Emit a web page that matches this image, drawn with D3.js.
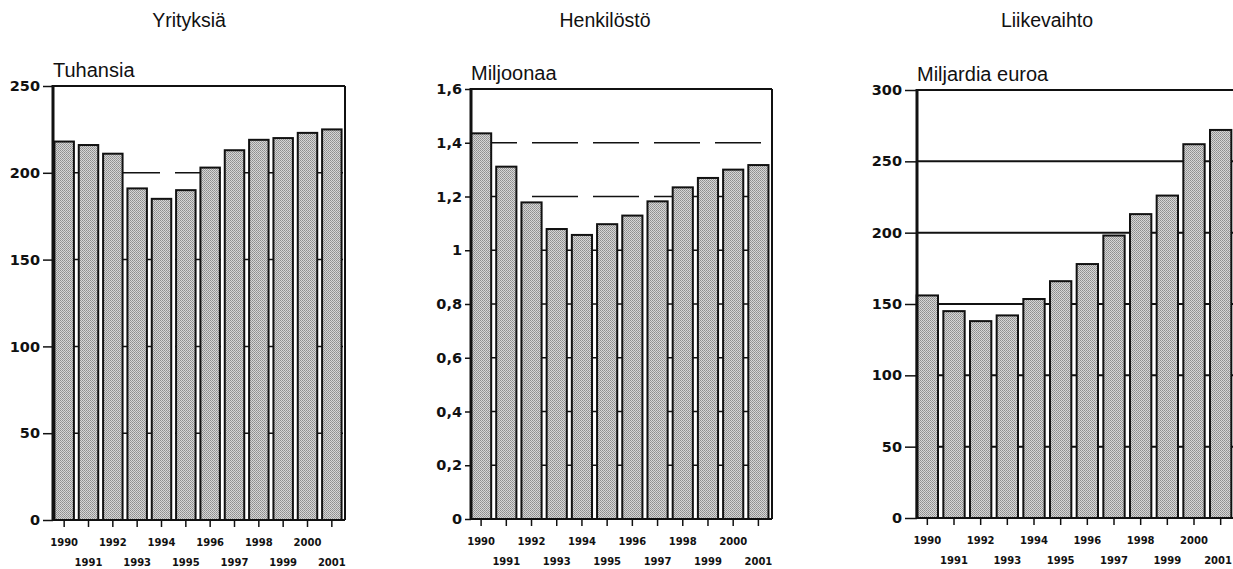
<!DOCTYPE html>
<html>
<head>
<meta charset="utf-8">
<script src="https://d3js.org/d3.v7.min.js"></script>
<style>
  body { margin: 0; background: #fff; }
  svg { display: block; }
</style>
</head>
<body>
<div id="chart"></div>
<script>
// Data
const years = ['1990', '1991', '1992', '1993', '1994', '1995', '1996', '1997', '1998', '1999', '2000', '2001'];
const yrityksia = [218, 216, 211, 191, 185, 190, 203, 213, 219, 220, 223, 225];
const henkilosto = [1.435, 1.311, 1.178, 1.079, 1.057, 1.097, 1.129, 1.182, 1.234, 1.269, 1.300, 1.317];
const liikevaihto = [156, 145, 138, 142, 153.5, 166, 178, 198, 213, 226, 262, 272];

const ticksYrityksia = [0, 50, 100, 150, 200, 250];
const ticksHenkilosto = [0, 0.2, 0.4, 0.6, 0.8, 1, 1.2, 1.4, 1.6];
const ticksLiikevaihto = [0, 50, 100, 150, 200, 250, 300];

const titles = ['Yrityksiä', 'Henkilöstö', 'Liikevaihto'];
const units = ['Tuhansia', 'Miljoonaa', 'Miljardia euroa'];

const width = 1233, height = 569;
const fi = d3.formatLocale({ decimal: ',', thousands: ' ', grouping: [3], currency: ['', ' €'] });

// Layout of the three panels
const panels = [
    { values: yrityksia, ticks: ticksYrityksia, max: 250, titleX: 189,
      x0: 52, x1: 344, axisX: 53, frameR: 345, yTop: 86, yBottom: 520,
      dash: '46,15', gridWidth: 1.5, tickLen: 10 },
    { values: henkilosto, ticks: ticksHenkilosto, max: 1.6, titleX: 605,
      x0: 468.5, x1: 771, axisX: 471, frameR: 772, yTop: 89, yBottom: 519,
      dash: '46,15', gridWidth: 1.5, tickLen: 6 },
    { values: liikevaihto, ticks: ticksLiikevaihto, max: 300, titleX: 1047,
      x0: 914, x1: 1234, axisX: 917, frameR: 1236, yTop: 90, yBottom: 518,
      dash: null, gridWidth: 2, tickLen: 12 }
];

const svg = d3.select('#chart')
    .append('svg')
    .attr('width', width)
    .attr('height', height)
    .attr('viewBox', [0, 0, width, height]);

// Stippled grey fill for the bars
const pat = svg.append('defs').append('pattern')
    .attr('id', 'stipple')
    .attr('width', 2)
    .attr('height', 2)
    .attr('patternUnits', 'userSpaceOnUse');
pat.append('rect').attr('width', 2).attr('height', 2).attr('fill', '#d6d6d6');
pat.append('rect').attr('width', 1).attr('height', 1).attr('fill', '#8e8e8e');
pat.append('rect').attr('x', 1).attr('y', 1).attr('width', 1).attr('height', 1).attr('fill', '#9c9c9c');

panels.forEach((p, idx) => {
    const g = svg.append('g');

    const x = d3.scaleBand()
        .domain(years)
        .range([p.x0, p.x1])
        .paddingInner(0.2)
        .paddingOuter(0.1);

    const y = d3.scaleLinear()
        .domain([0, p.max])
        .range([p.yBottom, p.yTop]);

    // Title and unit
    g.append('text')
        .attr('x', p.titleX)
        .attr('y', 27)
        .attr('text-anchor', 'middle')
        .attr('font-family', 'Liberation Sans, Arial, sans-serif')
        .attr('font-size', '19.5px')
        .attr('fill', '#111')
        .text(titles[idx]);

    g.append('text')
        .attr('x', p.axisX)
        .attr('y', p.yTop - 9)
        .attr('font-family', 'Liberation Sans, Arial, sans-serif')
        .attr('font-size', '20px')
        .attr('fill', '#111')
        .text(units[idx]);

    // Gridlines (behind the bars)
    g.append('g')
        .selectAll('line')
        .data(p.ticks.filter(t => t > 0 && t < p.max - 1e-9))
        .join('line')
        .attr('x1', p.axisX)
        .attr('x2', p.frameR)
        .attr('y1', d => y(d))
        .attr('y2', d => y(d))
        .attr('stroke', '#111')
        .attr('stroke-width', p.gridWidth)
        .attr('stroke-dasharray', p.dash);

    // Bars
    g.append('g')
        .selectAll('rect')
        .data(p.values)
        .join('rect')
        .attr('x', (d, i) => x(years[i]))
        .attr('width', x.bandwidth())
        .attr('y', d => y(d))
        .attr('height', d => y(0) - y(d))
        .attr('fill', 'url(#stipple)')
        .attr('stroke', '#111')
        .attr('stroke-width', 2);

    // Frame: top, right, bottom, and thick left axis
    g.append('line')
        .attr('x1', p.axisX).attr('x2', p.frameR)
        .attr('y1', y(p.max)).attr('y2', y(p.max))
        .attr('stroke', '#111').attr('stroke-width', 2);
    g.append('line')
        .attr('x1', p.frameR).attr('x2', p.frameR)
        .attr('y1', y(p.max)).attr('y2', y(0))
        .attr('stroke', '#111').attr('stroke-width', 2);
    g.append('line')
        .attr('x1', p.axisX).attr('x2', p.frameR)
        .attr('y1', y(0)).attr('y2', y(0))
        .attr('stroke', '#111').attr('stroke-width', 2);
    g.append('line')
        .attr('x1', p.axisX).attr('x2', p.axisX)
        .attr('y1', y(p.max) - 1).attr('y2', y(0) + 1)
        .attr('stroke', '#111').attr('stroke-width', 3);

    // Y axis
    const yAxis = g.append('g')
        .attr('transform', `translate(${p.axisX},0)`)
        .call(d3.axisLeft(y)
            .tickValues(p.ticks)
            .tickSize(p.tickLen)
            .tickPadding(3)
            .tickFormat(fi.format('~g')));
    yAxis.select('.domain').remove();
    yAxis.selectAll('line').attr('stroke', '#111').attr('stroke-width', 1.5);
    yAxis.selectAll('text')
        .attr('font-family', 'DejaVu Sans, sans-serif')
        .attr('font-weight', 'bold')
        .attr('font-size', '14.5px')
        .attr('fill', '#111');

    // X axis, labels staggered on two rows
    const xAxis = g.append('g')
        .attr('transform', `translate(0,${y(0)})`)
        .call(d3.axisBottom(x).tickSize(7));
    xAxis.select('.domain').remove();
    xAxis.selectAll('line').attr('stroke', '#111').attr('stroke-width', 1.5);
    xAxis.selectAll('text')
        .attr('dy', null)
        .attr('y', (d, i) => i % 2 === 0 ? 26 : 46)
        .attr('font-family', 'DejaVu Sans, sans-serif')
        .attr('font-weight', 'bold')
        .attr('font-size', '10px')
        .attr('fill', '#111');

    // keep the last label inside the window
    xAxis.selectAll('.tick').each(function(d) {
        const t = d3.select(this).select('text');
        const right = x(d) + x.bandwidth() / 2 + t.node().getBBox().width / 2;
        if (right > width - 1) t.attr('x', width - 1 - right);
    });
});
</script>
</body>
</html>
